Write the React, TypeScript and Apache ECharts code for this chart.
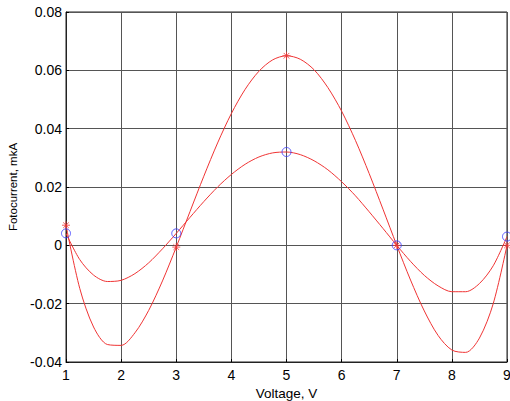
import React, { useEffect, useRef } from "react";
import * as echarts from "echarts";

// x positions where the curves were read (V)
const curveX = [
  1, 1.25, 1.5, 1.75, 2, 2.25, 2.5, 2.75, 3, 3.25, 3.5, 3.75, 4, 4.25, 4.5, 4.75,
  5, 5.25, 5.5, 5.75, 6, 6.25, 6.5, 6.75, 7, 7.25, 7.5, 7.75, 8, 8.25, 8.5, 8.75, 9,
];
// upper/deeper curve (asterisk markers), mkA
const curveA = [
  0.0069, -0.0148, -0.028, -0.034, -0.0343, -0.03, -0.0223, -0.0122, -0.0006, 0.0116,
  0.0237, 0.0351, 0.0452, 0.0535, 0.0597, 0.0636, 0.065, 0.0638, 0.0602, 0.0541,
  0.046, 0.036, 0.0246, 0.0124, 0.0, -0.0119, -0.0225, -0.0309, -0.0359, -0.0367,
  -0.0318, -0.02, 0.0,
];
// lower/shallower curve (circle markers), mkA
const curveB = [
  0.0041, -0.0049, -0.0102, -0.0124, -0.012, -0.0097, -0.006, -0.0012, 0.0041, 0.0096,
  0.015, 0.02, 0.0243, 0.0278, 0.0303, 0.0317, 0.032, 0.0311, 0.029, 0.0259,
  0.0218, 0.017, 0.0115, 0.0058, 0.0, -0.0055, -0.0103, -0.0139, -0.0159, -0.0159,
  -0.0131, -0.007, 0.003,
];
// measured points
const pointX = [1, 3, 5, 7, 9];
const pointsA = [0.0069, -0.0006, 0.065, 0.0, 0.0];
const pointsB = [0.0041, 0.0041, 0.032, 0.0, 0.003];

const xTicks = { min: 1, max: 9, interval: 1 };
const yTicks = { min: -0.04, max: 0.08, interval: 0.02 };

const FONT = "'Liberation Sans', Arial, sans-serif";
const RED = "#f03434";
const BLUE = "#3a3aff";

export default function App() {
  const ref = useRef<HTMLDivElement>(null);
  useEffect(() => {
    if (!ref.current) return;
    const chart = echarts.init(ref.current, null, { renderer: "svg" });
    const zip = (xs: number[], ys: number[]) => xs.map((x, i) => [x, ys[i]]);
    chart.setOption({
      animation: false,
      backgroundColor: "#ffffff",
      grid: {
        left: 66,
        right: 3,
        top: 12,
        bottom: 39,
        containLabel: false,
        outerBoundsMode: "none",
        show: true,
        borderColor: "#222",
        borderWidth: 1,
        backgroundColor: "transparent",
      },
      xAxis: {
        type: "value",
        min: xTicks.min,
        max: xTicks.max,
        interval: xTicks.interval,
        name: "Voltage, V",
        nameLocation: "middle",
        nameGap: 23,
        nameTextStyle: { fontFamily: FONT, fontSize: 13.5, color: "#000" },
        axisLine: { show: true, onZero: false, lineStyle: { color: "#222", width: 1 } },
        axisTick: { show: true, inside: true, length: 3, lineStyle: { color: "#000" } },
        axisLabel: { fontFamily: FONT, fontSize: 14, color: "#000", margin: 6 },
        splitLine: { show: true, lineStyle: { color: "#555", width: 1 } },
      },
      yAxis: {
        type: "value",
        min: yTicks.min,
        max: yTicks.max,
        interval: yTicks.interval,
        name: "Fotocurrent, mkA",
        nameLocation: "middle",
        nameGap: 42,
        nameTextStyle: { fontFamily: FONT, fontSize: 11.5, color: "#000" },
        axisLine: { show: true, onZero: false, lineStyle: { color: "#222", width: 1 } },
        axisTick: { show: true, inside: true, length: 3, lineStyle: { color: "#000" } },
        axisLabel: {
          fontFamily: FONT,
          fontSize: 14,
          color: "#000",
          margin: 4,
          formatter: (v: number) => (Math.abs(v) < 1e-9 ? "0" : v.toFixed(2)),
        },
        splitLine: { show: true, lineStyle: { color: "#555", width: 1 } },
      },
      series: [
        {
          type: "line",
          data: zip(curveX, curveA),
          showSymbol: false,
          smooth: 0.3,
          lineStyle: { color: RED, width: 1 },
          z: 3,
        },
        {
          type: "line",
          data: zip(curveX, curveB),
          showSymbol: false,
          smooth: 0.3,
          lineStyle: { color: RED, width: 1 },
          z: 3,
        },
        {
          type: "scatter",
          data: zip(pointX, pointsA),
          symbol: "path://M0,5L10,5M5,0L5,10M1.5,1.5L8.5,8.5M8.5,1.5L1.5,8.5",
          symbolSize: 8,
          itemStyle: { color: "none", borderColor: RED, borderWidth: 1 },
          z: 4,
        },
        {
          type: "scatter",
          data: zip(pointX, pointsB),
          symbol: "circle",
          symbolSize: 9,
          itemStyle: { color: "none", borderColor: BLUE, borderWidth: 1 },
          z: 4,
        },
      ],
    });
    return () => chart.dispose();
  }, []);
  return (
    <div
      ref={ref}
      style={{ position: "fixed", left: 0, top: 0, width: 510, height: 401, background: "#fff" }}
    />
  );
}
